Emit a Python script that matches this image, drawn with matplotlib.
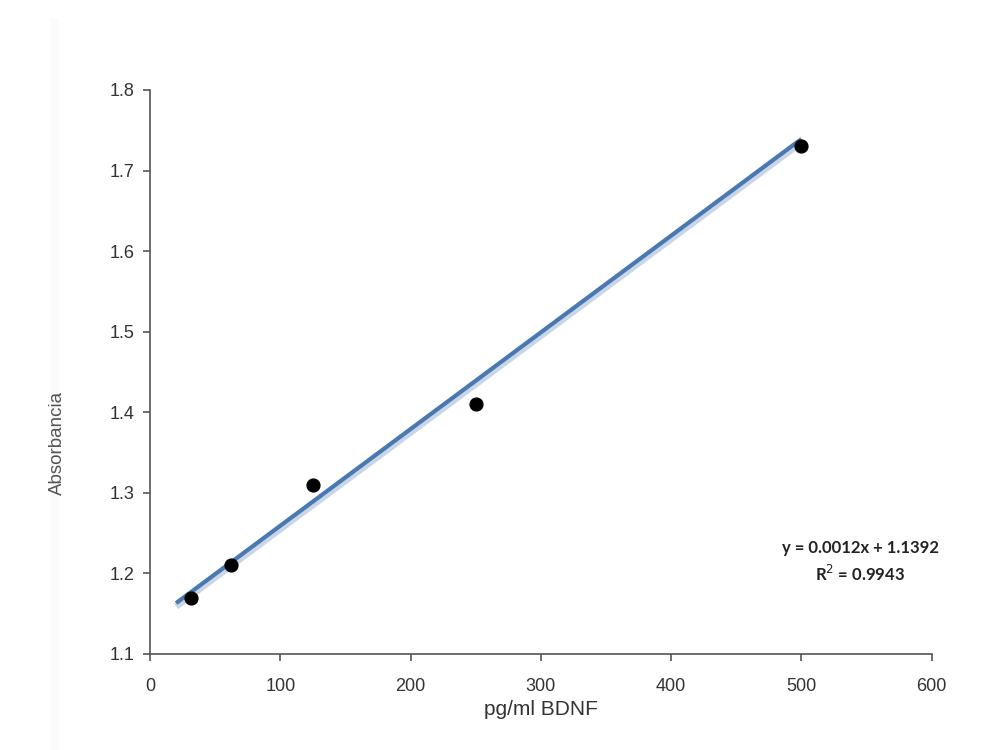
import matplotlib.pyplot as plt
import numpy as np

# standard curve data
conc = [31.25, 62.5, 125, 250, 500]
absorb = [1.17, 1.21, 1.31, 1.41, 1.73]
slope = 0.0012
intercept = 1.1392
r2 = 0.9943
fit_range = [20, 500]

fig = plt.figure(figsize=(9.97, 7.5), dpi=100)
# faint scan band on the left edge
fig.add_artist(plt.Line2D([0.055, 0.055], [0, 0.97], transform=fig.transFigure,
                          color='#fafafa', linewidth=6, zorder=0))
ax = fig.add_axes([0.1505, 0.128, 0.784, 0.752])
ax.patch.set_alpha(0)

xf = np.array(fit_range)
yf = slope * xf + intercept
# soft shadow under the trend line
ax.plot(xf, yf - 0.004, color='#c9d6e8', linewidth=5, solid_capstyle='butt', zorder=1)
ax.plot(xf, yf, color='#4a78b0', linewidth=3, solid_capstyle='butt', zorder=2)
ax.scatter(conc, absorb, s=85, color='black', zorder=3)

ax.set_xlim(0, 600)
ax.set_ylim(1.1, 1.8)
ax.set_xticks(range(0, 601, 100))
ax.set_yticks(np.arange(1.1, 1.81, 0.1))
ax.set_yticklabels(['%.1f' % v for v in np.arange(1.1, 1.81, 0.1)])

for s in ['top', 'right']:
    ax.spines[s].set_visible(False)
for s in ['left', 'bottom']:
    ax.spines[s].set_color('#555555')
    ax.spines[s].set_linewidth(1.2)
ax.tick_params(direction='out', length=5, width=1.2, color='#555555',
               labelsize=13, labelcolor='#333333')
ax.tick_params(axis='x', pad=12)
ax.tick_params(axis='y', pad=6)
for lbl in ax.get_xticklabels() + ax.get_yticklabels():
    lbl.set_family('Liberation Sans')

ax.set_xlabel('pg/ml BDNF', fontsize=15, family='Liberation Sans', color='#333333', labelpad=4)
fig.text(0.058, 0.41, 'Absorbancia', rotation=90, ha='center', va='center',
         fontsize=13.5, family='Liberation Sans', color='#555555')

fig.text(0.863, 0.269, 'y = 0.0012x + 1.1392', ha='center', va='center',
         fontsize=12, fontweight='bold', family='Lato', color='#222222')
fig.text(0.863, 0.235, 'R$^2$ = 0.9943', ha='center', va='center',
         fontsize=12, fontweight='bold', family='Lato', color='#222222')

fig.savefig('out.png', dpi=100)
